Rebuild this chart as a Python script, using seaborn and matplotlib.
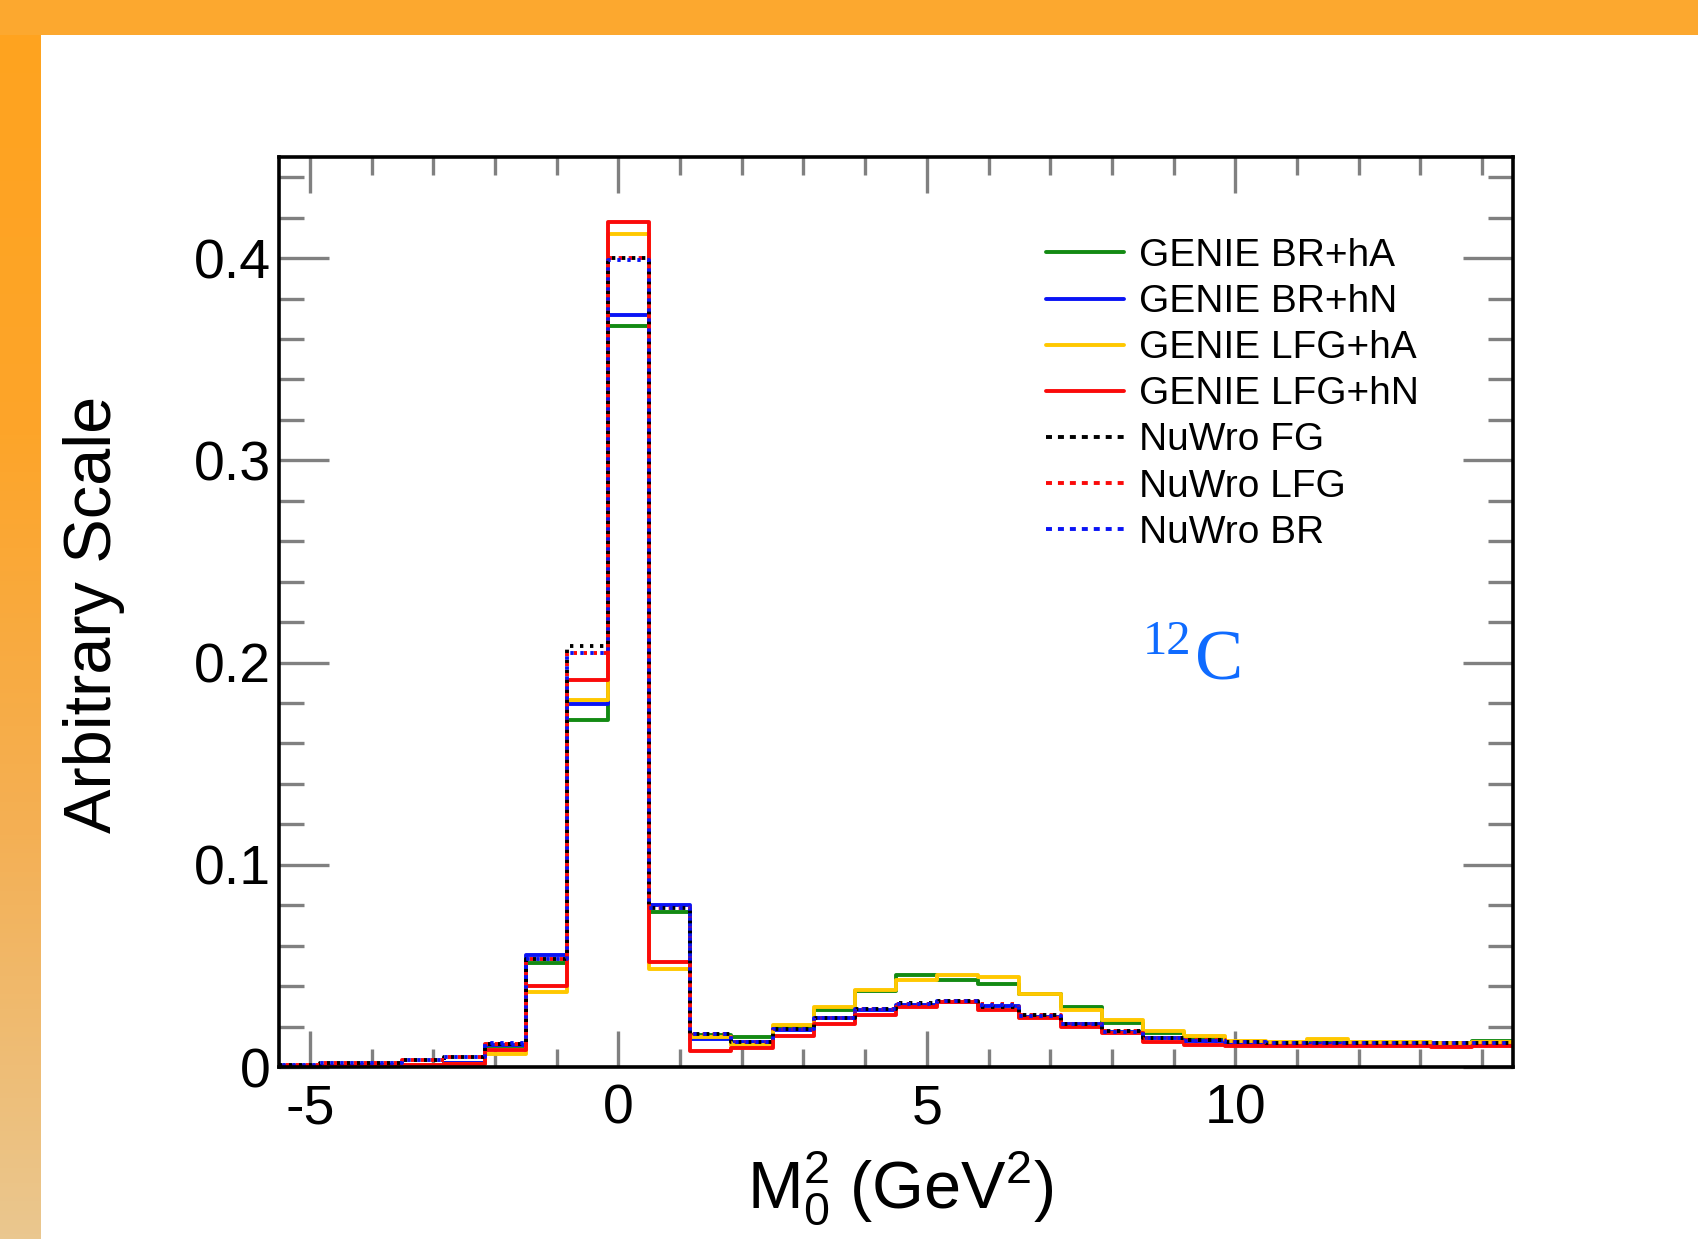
import numpy as np
import pandas as pd
import matplotlib
matplotlib.use("Agg")
import matplotlib.pyplot as plt
import seaborn as sns
from matplotlib.colors import LinearSegmentedColormap
from matplotlib.patches import Rectangle
from matplotlib.lines import Line2D
from matplotlib.ticker import MultipleLocator, FixedLocator

# ---------------- data ----------------
bin_low, bin_high, n_bins = -5.5, 14.5, 30

genie_br_ha = [0.0003, 0.0005, 0.0008, 0.0012, 0.0020, 0.0105, 0.0515, 0.1715, 0.3665, 0.0765,
               0.0160, 0.0148, 0.0200, 0.0280, 0.0375, 0.0453, 0.0429, 0.0412, 0.0360, 0.0297,
               0.0218, 0.0170, 0.0140, 0.0125, 0.0120, 0.0120, 0.0118, 0.0118, 0.0120, 0.0129]
genie_br_hn = [0.0003, 0.0005, 0.0008, 0.0012, 0.0020, 0.0110, 0.0553, 0.1794, 0.3720, 0.0803,
               0.0140, 0.0124, 0.0183, 0.0240, 0.0283, 0.0308, 0.0322, 0.0303, 0.0248, 0.0212,
               0.0173, 0.0143, 0.0128, 0.0121, 0.0116, 0.0115, 0.0115, 0.0115, 0.0116, 0.0116]
genie_lfg_ha = [0.0002, 0.0003, 0.0005, 0.0008, 0.0015, 0.0066, 0.0371, 0.1817, 0.4120, 0.0487,
                0.0150, 0.0107, 0.0210, 0.0295, 0.0381, 0.0429, 0.0453, 0.0445, 0.0363, 0.0280,
                0.0231, 0.0177, 0.0152, 0.0127, 0.0125, 0.0137, 0.0124, 0.0124, 0.0120, 0.0125]
genie_lfg_hn = [0.0003, 0.0005, 0.0005, 0.0012, 0.0017, 0.0085, 0.0399, 0.1912, 0.4180, 0.0519,
                0.0079, 0.0094, 0.0152, 0.0215, 0.0255, 0.0295, 0.0322, 0.0280, 0.0240, 0.0200,
                0.0167, 0.0124, 0.0107, 0.0104, 0.0104, 0.0104, 0.0104, 0.0102, 0.0100, 0.0104]
nuwro_fg = [0.0010, 0.0020, 0.0020, 0.0033, 0.0050, 0.0116, 0.0536, 0.2082, 0.4000, 0.0785,
            0.0165, 0.0124, 0.0186, 0.0244, 0.0289, 0.0318, 0.0325, 0.0295, 0.0256, 0.0215,
            0.0178, 0.0145, 0.0132, 0.0124, 0.0119, 0.0117, 0.0117, 0.0117, 0.0119, 0.0117]
nuwro_lfg = [0.0010, 0.0020, 0.0020, 0.0033, 0.0048, 0.0116, 0.0536, 0.2047, 0.4000, 0.0785,
             0.0165, 0.0124, 0.0186, 0.0244, 0.0289, 0.0313, 0.0325, 0.0313, 0.0256, 0.0215,
             0.0178, 0.0145, 0.0132, 0.0124, 0.0119, 0.0117, 0.0117, 0.0117, 0.0119, 0.0117]
nuwro_br = [0.0010, 0.0020, 0.0020, 0.0033, 0.0048, 0.0119, 0.0536, 0.2047, 0.3990, 0.0785,
            0.0165, 0.0124, 0.0186, 0.0240, 0.0285, 0.0310, 0.0325, 0.0305, 0.0250, 0.0215,
            0.0175, 0.0145, 0.0130, 0.0124, 0.0119, 0.0117, 0.0117, 0.0117, 0.0119, 0.0117]

series_names = ["GENIE BR+hA", "GENIE BR+hN", "GENIE LFG+hA", "GENIE LFG+hN",
                "NuWro FG", "NuWro LFG", "NuWro BR"]
series_values = [genie_br_ha, genie_br_hn, genie_lfg_ha, genie_lfg_hn,
                 nuwro_fg, nuwro_lfg, nuwro_br]

x_ticks = [-5, 0, 5, 10]
x_tick_labels = ["-5", "0", "5", "10"]
y_ticks = [0, 0.1, 0.2, 0.3, 0.4]
y_tick_labels = ["0", "0.1", "0.2", "0.3", "0.4"]

# ---------------- styles ----------------
colors = ["#138a13", "#0a14f5", "#ffc800", "#fa0a0a", "#000000", "#fa0a0a", "#0a14f5"]
styles = ["-", "-", "-", "-", (0, (2.4, 4.8)), (2.4, (2.4, 4.8)), (4.8, (2.4, 4.8))]

sns.set_theme(style="white")
plt.rcParams["font.family"] = ["Liberation Sans", "DejaVu Sans"]
plt.rcParams["text.color"] = "black"
plt.rcParams["axes.labelcolor"] = "black"
plt.rcParams["axes.unicode_minus"] = False
plt.rcParams["mathtext.fontset"] = "custom"
plt.rcParams["mathtext.rm"] = "Liberation Sans"
plt.rcParams["mathtext.it"] = "Liberation Sans:italic"
plt.rcParams["lines.scale_dashes"] = False

edges = list(np.linspace(bin_low, bin_high, n_bins + 1))
centers = [0.5 * (edges[i] + edges[i + 1]) for i in range(n_bins)]
rows = []
for name, vals in zip(series_names, series_values):
    for c, v in zip(centers, vals):
        rows.append({"x": c, "w": v, "series": name})
df = pd.DataFrame(rows)

fig = plt.figure(figsize=(16.98, 12.39), dpi=100)
fig.patch.set_facecolor("white")

# decorative slide frame
fig.patches.append(Rectangle((0, 1 - 35 / 1239), 1, 35 / 1239, transform=fig.transFigure,
                             facecolor="#FCA82F", edgecolor="none", zorder=-5))
lax = fig.add_axes([0, 0, 41 / 1698, 1 - 35 / 1239], zorder=-5)
grad = np.linspace(0, 1, 256).reshape(-1, 1)
cmap = LinearSegmentedColormap.from_list("g", ["#EAC78F", "#F4B055", "#FDA52A", "#FFA31F"])
lax.imshow(grad, aspect="auto", cmap=cmap, origin="lower", extent=[0, 1, 0, 1])
lax.axis("off")

ax = fig.add_axes([279 / 1698, (1239 - 1067) / 1239, (1513 - 279) / 1698, (1067 - 157) / 1239])

for name, col, ls in zip(series_names, colors, styles):
    sub = df[df["series"] == name]
    sns.histplot(data=sub, x="x", weights="w", bins=edges, element="step", fill=False,
                 color=col, linewidth=2.8, linestyle=ls, ax=ax)

ax.set_xlim(bin_low, bin_high)
ax.set_ylim(0, 0.45)
ax.set_xlabel("")
ax.set_ylabel("")

ax.xaxis.set_major_locator(FixedLocator(x_ticks))
ax.set_xticklabels(x_tick_labels)
ax.xaxis.set_minor_locator(MultipleLocator(1))
ax.yaxis.set_major_locator(FixedLocator(y_ticks))
ax.set_yticklabels(y_tick_labels)
ax.yaxis.set_minor_locator(MultipleLocator(0.02))

ax.tick_params(axis="both", which="both", direction="in", top=True, right=True,
               bottom=True, left=True, color="#808080", width=2.4, labelsize=40,
               labelcolor="black")
ax.tick_params(axis="x", which="major", length=26, pad=12)
ax.tick_params(axis="x", which="minor", length=13)
ax.tick_params(axis="y", which="major", length=36, pad=6)
ax.tick_params(axis="y", which="minor", length=18)

for sp in ax.spines.values():
    sp.set_visible(True)
    sp.set_color("black")
    sp.set_linewidth(2.6)

fig.text(0.0555, 0.5044, "Arbitrary Scale", rotation=90, ha="center", va="center", fontsize=48)
fig.text(0.530, 0.0404, r"M$_0^2$ (GeV$^2$)", ha="center", va="center", fontsize=48)

fig.text(0.6875, 0.4818, "12", ha="center", va="center", fontsize=35,
         family=["Liberation Serif", "DejaVu Serif"], color="#0F6BFF")
fig.text(0.7182, 0.4657, "C", ha="center", va="center", fontsize=52,
         family=["Liberation Serif", "DejaVu Serif"], color="#0F6BFF")

handles = []
for name, col, ls in zip(series_names, colors, styles):
    if ls == "-":
        h = Line2D([0], [0], color=col, linewidth=2.8, linestyle="-")
    else:
        h = Line2D([0], [0], color=col, linewidth=2.8, linestyle=(0, (4.3, 4.3)))
    handles.append(h)
ax.legend(handles, series_names, loc="upper left", bbox_to_anchor=(1046 / 1698, 1 - 238 / 1239),
          bbox_transform=fig.transFigure, frameon=False, fontsize=28, handlelength=2.0,
          handletextpad=0.4, labelspacing=0.26, borderpad=0, borderaxespad=0)

fig.savefig("out.png", dpi=100)
